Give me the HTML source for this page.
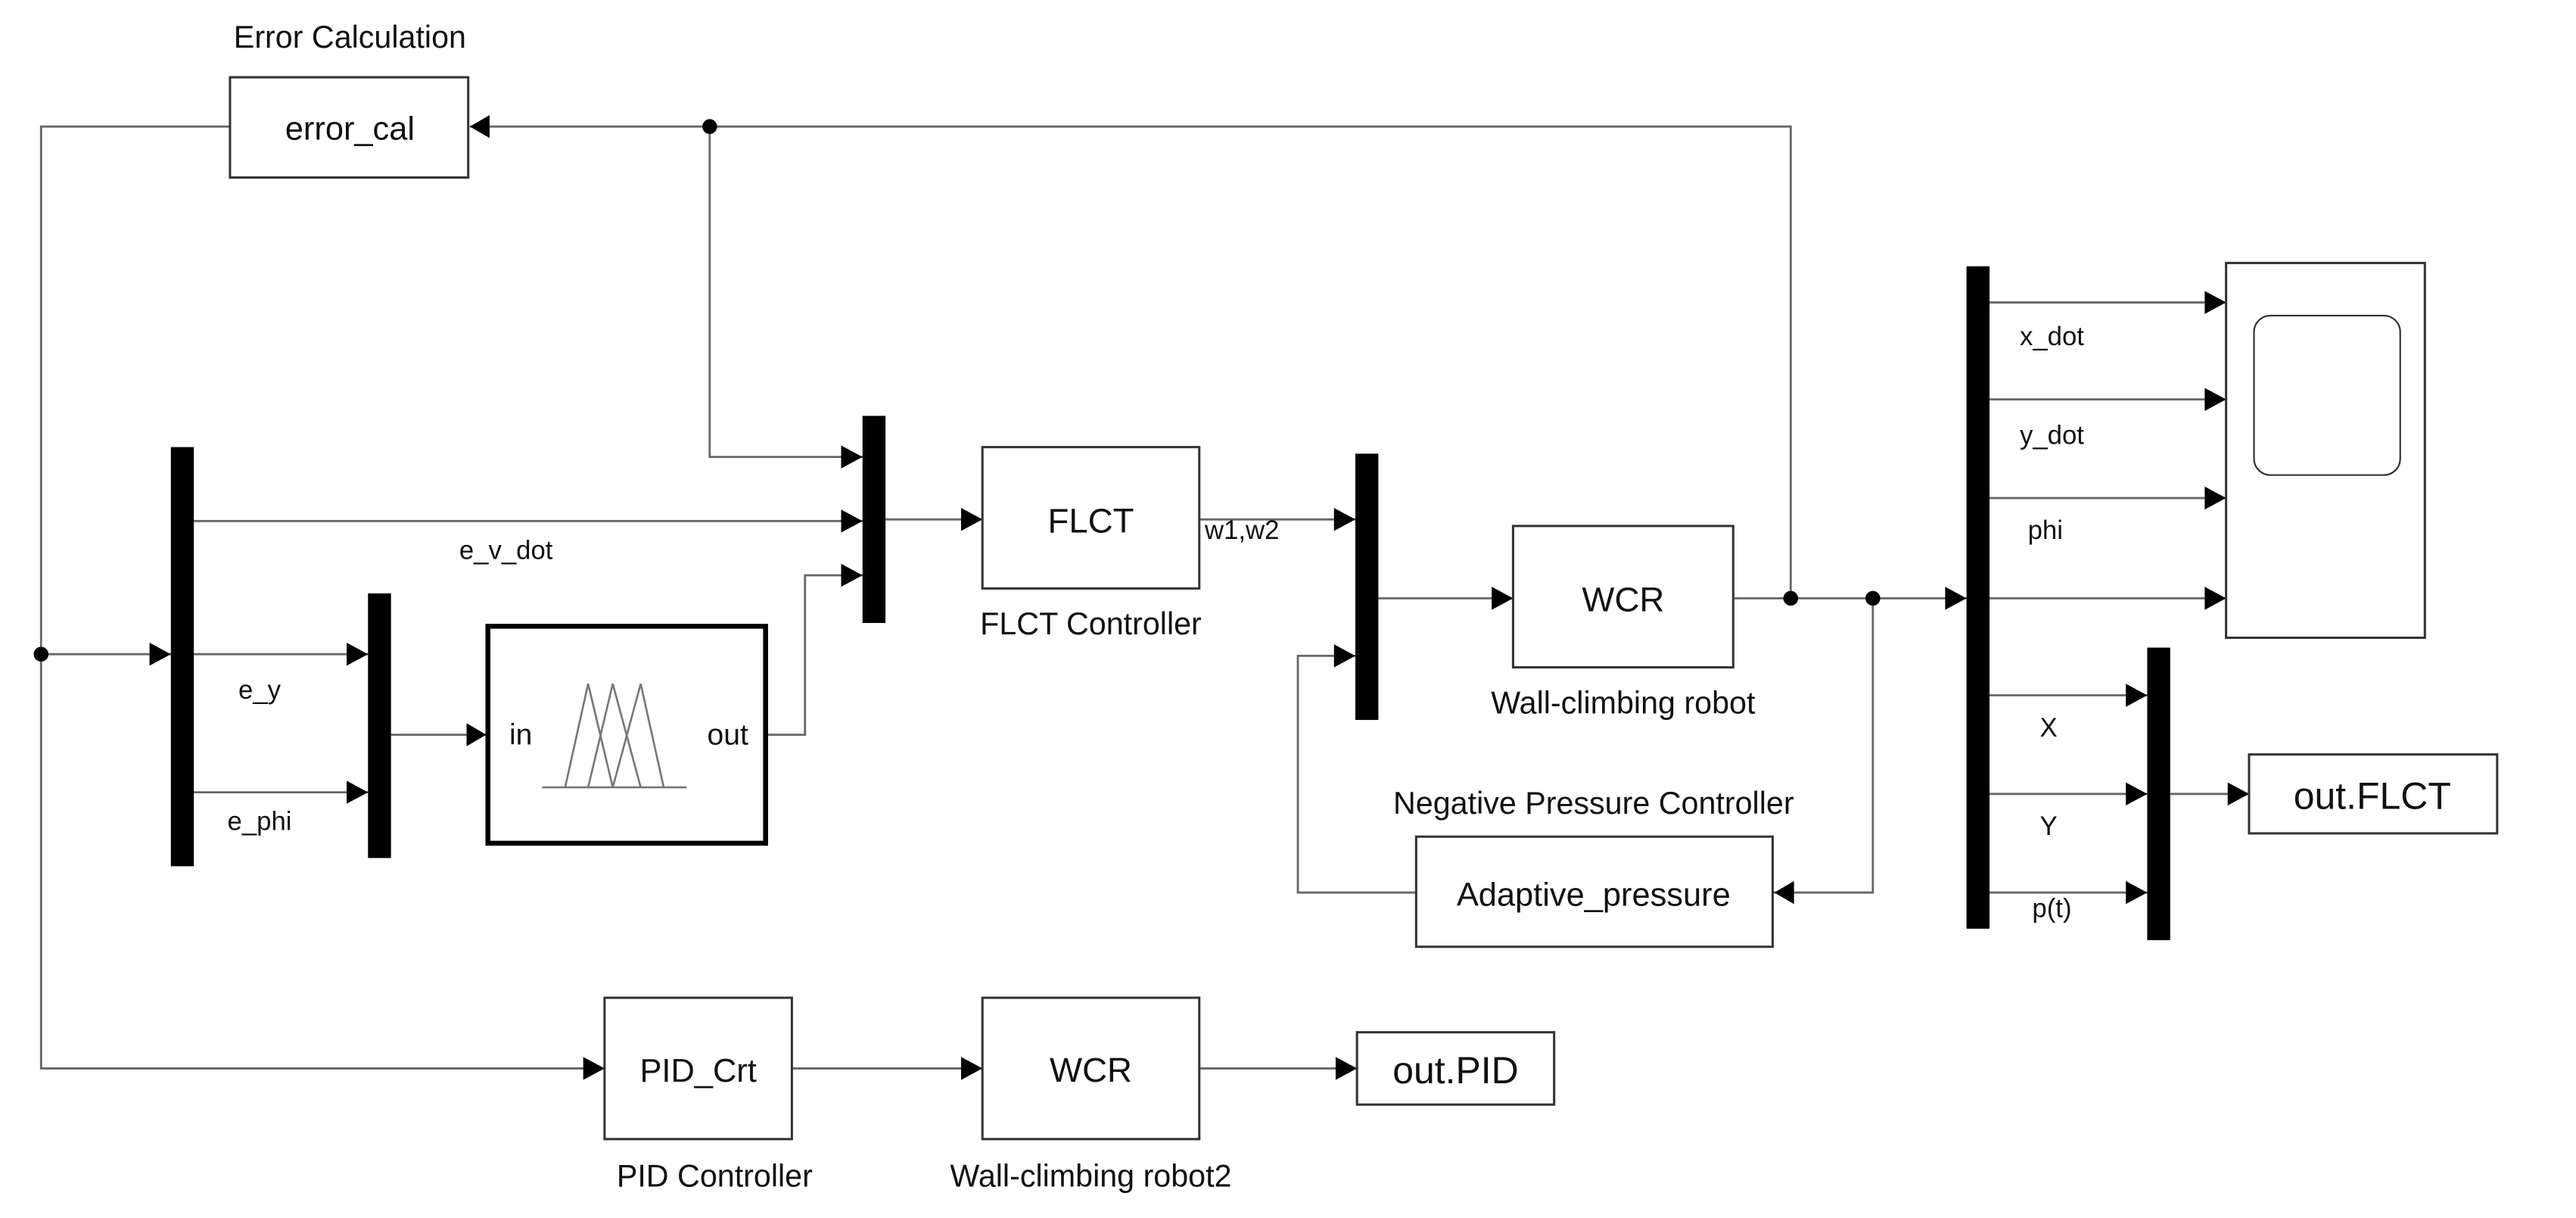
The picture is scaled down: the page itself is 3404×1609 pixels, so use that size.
<!DOCTYPE html>
<html><head><meta charset="utf-8"><style>
html,body{margin:0;padding:0;background:#fff;}
svg{display:block;}
text{font-family:"Liberation Sans",Arial,sans-serif;fill:#111;}
</style></head><body>
<svg width="3404" height="1609" viewBox="0 0 1568 741" preserveAspectRatio="none" xmlns="http://www.w3.org/2000/svg">
<g fill="none" stroke="#666" stroke-width="1.3">
<polyline points="286,77 1090,77 1090,364"/>
<polyline points="140,77 25,77 25,650 368,650"/>
<polyline points="432,77 432,278 525,278"/>
<line x1="25" y1="398" x2="104" y2="398"/>
<line x1="118" y1="317" x2="525" y2="317"/>
<line x1="118" y1="398" x2="224" y2="398"/>
<line x1="118" y1="482" x2="224" y2="482"/>
<line x1="238" y1="447" x2="296" y2="447"/>
<polyline points="467,447 490,447 490,350 525,350"/>
<line x1="539" y1="316" x2="598" y2="316"/>
<line x1="730" y1="316" x2="825" y2="316"/>
<line x1="839" y1="364" x2="921" y2="364"/>
<line x1="1055" y1="364" x2="1197" y2="364"/>
<polyline points="1140,364 1140,543 1079,543"/>
<polyline points="862,543 790,543 790,399 825,399"/>
<line x1="1211" y1="184" x2="1355" y2="184"/>
<line x1="1211" y1="243" x2="1355" y2="243"/>
<line x1="1211" y1="303" x2="1355" y2="303"/>
<line x1="1211" y1="364" x2="1355" y2="364"/>
<line x1="1211" y1="423" x2="1307" y2="423"/>
<line x1="1211" y1="483" x2="1307" y2="483"/>
<line x1="1211" y1="543" x2="1307" y2="543"/>
<line x1="1321" y1="483" x2="1369" y2="483"/>
<line x1="482" y1="650" x2="598" y2="650"/>
<line x1="730" y1="650" x2="826" y2="650"/>
</g>
<g fill="#000">
<circle cx="432" cy="77" r="4.5"/><circle cx="25" cy="398" r="4.5"/>
<circle cx="1090" cy="364" r="4.5"/><circle cx="1140" cy="364" r="4.5"/>
</g>
<g fill="#000">
<polygon points="286,77 298,70 298,84"/>
<polygon points="1080,543 1092,536 1092,550"/>
<polygon points="91,391 104,398 91,405"/>
<polygon points="211,391 224,398 211,405"/>
<polygon points="211,475 224,482 211,489"/>
<polygon points="284,440 296,447 284,454"/>
<polygon points="512,271 525,278 512,285"/>
<polygon points="512,310 525,317 512,324"/>
<polygon points="512,343 525,350 512,357"/>
<polygon points="585,309 598,316 585,323"/>
<polygon points="812,309 825,316 812,323"/>
<polygon points="812,392 825,399 812,406"/>
<polygon points="908,357 921,364 908,371"/>
<polygon points="1184,357 1197,364 1184,371"/>
<polygon points="1342,177 1355,184 1342,191"/>
<polygon points="1342,236 1355,243 1342,250"/>
<polygon points="1342,296 1355,303 1342,310"/>
<polygon points="1342,357 1355,364 1342,371"/>
<polygon points="1294,416 1307,423 1294,430"/>
<polygon points="1294,476 1307,483 1294,490"/>
<polygon points="1294,536 1307,543 1294,550"/>
<polygon points="1356,476 1369,483 1356,490"/>
<polygon points="355,643 368,650 355,657"/>
<polygon points="585,643 598,650 585,657"/>
<polygon points="813,643 826,650 813,657"/>
<rect x="104" y="272" width="14" height="255"/>
<rect x="224" y="361" width="14" height="161"/>
<rect x="525" y="253" width="14" height="126"/>
<rect x="825" y="276" width="14" height="162"/>
<rect x="1197" y="162" width="14" height="403"/>
<rect x="1307" y="394" width="14" height="178"/>
</g>
<g fill="#fff" stroke="#333" stroke-width="1.4">
<rect x="140" y="47" width="145" height="61"/>
<rect x="598" y="272" width="132" height="86"/>
<rect x="921" y="320" width="134" height="86"/>
<rect x="862" y="509" width="217" height="67"/>
<rect x="1355" y="160" width="121" height="228"/>
<rect x="1372" y="192" width="89" height="97" rx="10" stroke-width="1"/>
<rect x="1369" y="459" width="151" height="48"/>
<rect x="368" y="607" width="114" height="86"/>
<rect x="598" y="607" width="132" height="86"/>
<rect x="826" y="628" width="120" height="44"/>
<rect x="297" y="381" width="169" height="132" stroke="#000" stroke-width="3"/>
</g>
<g fill="none" stroke="#777" stroke-width="1.2">
<line x1="330" y1="479" x2="418" y2="479"/>
<polyline points="344,479 358,416 373,479"/>
<polyline points="358,479 373,416 390,479"/>
<polyline points="373,479 390,416 404,479"/>
</g>
<g font-size="19" text-anchor="middle">
<text x="213" y="29">Error Calculation</text>
<text x="213" y="85" font-size="20">error_cal</text>
<text x="664" y="324" font-size="21">FLCT</text>
<text x="664" y="386">FLCT Controller</text>
<text x="988" y="372" font-size="21">WCR</text>
<text x="988" y="434">Wall-climbing robot</text>
<text x="970" y="495">Negative Pressure Controller</text>
<text x="970" y="551" font-size="20">Adaptive_pressure</text>
<text x="1444" y="492" font-size="23">out.FLCT</text>
<text x="425" y="658" font-size="20">PID_Crt</text>
<text x="435" y="722">PID Controller</text>
<text x="664" y="658" font-size="21">WCR</text>
<text x="664" y="722">Wall-climbing robot2</text>
<text x="886" y="659" font-size="23">out.PID</text>
<text x="308" y="340" font-size="16">e_v_dot</text>
<text x="158" y="425" font-size="16">e_y</text>
<text x="158" y="505" font-size="16">e_phi</text>
<text x="756" y="328" font-size="16">w1,w2</text>
<text x="1249" y="210" font-size="16">x_dot</text>
<text x="1249" y="270" font-size="16">y_dot</text>
<text x="1245" y="328" font-size="16">phi</text>
<text x="1247" y="448" font-size="16">X</text>
<text x="1247" y="508" font-size="16">Y</text>
<text x="1249" y="558" font-size="16">p(t)</text>
<text x="317" y="453" font-size="18">in</text>
<text x="443" y="453" font-size="18">out</text>
</g>
</svg>
</body></html>
